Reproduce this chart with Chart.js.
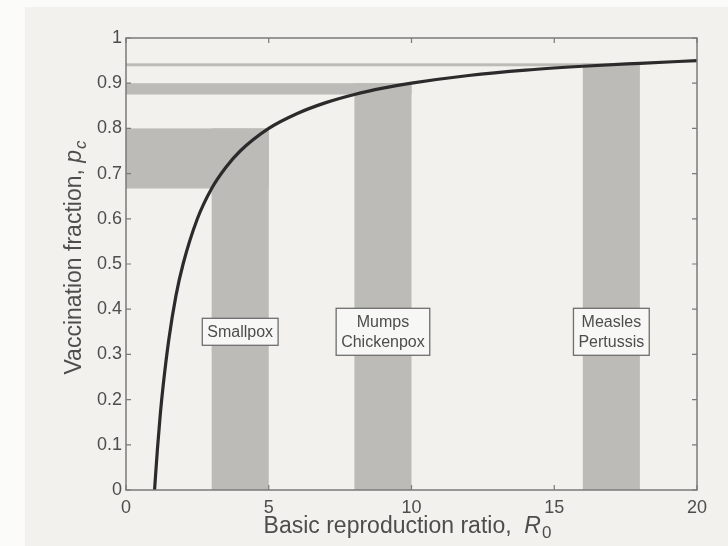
<!DOCTYPE html>
<html>
<head>
<meta charset="utf-8">
<script src="https://cdn.jsdelivr.net/npm/chart.js@4"></script>
<style>
html,body{margin:0;padding:0;background:#f2f1ed;}
canvas{display:block;}
</style>
</head>
<body>
<canvas id="c" width="728" height="546"></canvas>
<script>
// Critical vaccination curve: R0 -> p_c
const curveR0 = [1, 1.1, 1.2, 1.3, 1.5, 1.75, 2, 2.5, 3, 3.5, 4, 5, 6, 7, 8, 9, 10, 12, 14, 16, 18, 20];
const curvePc = [0, 0.09, 0.167, 0.23, 0.333, 0.43, 0.5, 0.6, 0.667, 0.714, 0.75, 0.8, 0.833, 0.857, 0.875, 0.889, 0.9, 0.917, 0.929, 0.9375, 0.944, 0.95];

// Disease bands
const diseaseNames = [["Smallpox"], ["Mumps", "Chickenpox"], ["Measles", "Pertussis"]];
const bandR0Lo = [3, 8, 16];
const bandR0Hi = [5, 10, 18];
const bandPcLo = [0.667, 0.875, 0.9375];
const bandPcHi = [0.8, 0.9, 0.944];

// Axis ticks
const xTicks = [0, 5, 10, 15, 20];
const yTicks = [0, 0.1, 0.2, 0.3, 0.4, 0.5, 0.6, 0.7, 0.8, 0.9, 1];
const yTickLabels = ["0", "0.1", "0.2", "0.3", "0.4", "0.5", "0.6", "0.7", "0.8", "0.9", "1"];

const xTitle = "Basic reproduction ratio,";
const xTitleVar = "R";
const xTitleSub = "0";
const yTitle = "Vaccination fraction,";
const yTitleVar = "p";
const yTitleSub = "c";

const FONT = '"Liberation Sans", Arial, Helvetica, sans-serif';
const TEXT = '#4d4d4d';
const AXIS = '#7a7a7a';
const BAND = '#bcbbb8';

const points = curveR0.map((r, i) => ({x: r, y: curvePc[i]}));

const decor = {
  id: 'decor',
  beforeDraw(chart) {
    const ctx = chart.ctx;
    ctx.save();
    ctx.fillStyle = '#f2f1ed';
    ctx.fillRect(0, 0, chart.width, chart.height);
    ctx.fillStyle = '#fbfbfa';
    ctx.fillRect(0, 0, 25, chart.height);
    ctx.fillRect(0, 0, chart.width, 7);
    ctx.restore();
  },
  beforeDatasetsDraw(chart) {
    const ctx = chart.ctx, xs = chart.scales.x, ys = chart.scales.y;
    ctx.save();
    ctx.fillStyle = BAND;
    for (let i = 0; i < bandR0Lo.length; i++) {
      const x0 = xs.getPixelForValue(0);
      const xl = xs.getPixelForValue(bandR0Lo[i]);
      const xh = xs.getPixelForValue(bandR0Hi[i]);
      const yb = ys.getPixelForValue(0);
      const ylo = ys.getPixelForValue(bandPcLo[i]);
      const yhi = ys.getPixelForValue(bandPcHi[i]);
      ctx.fillRect(x0, yhi, xh - x0, ylo - yhi);
      ctx.fillRect(xl, yhi, xh - xl, yb - yhi);
    }
    ctx.restore();
  },
  afterDatasetsDraw(chart) {
    const ctx = chart.ctx, xs = chart.scales.x, ys = chart.scales.y;
    const a = chart.chartArea;
    ctx.save();
    ctx.strokeStyle = AXIS;
    ctx.lineWidth = 1.5;
    ctx.strokeRect(a.left, a.top, a.right - a.left, a.bottom - a.top);
    ctx.lineWidth = 1.2;
    const tl = 5;
    ctx.beginPath();
    xTicks.forEach(v => {
      const px = xs.getPixelForValue(v);
      ctx.moveTo(px, a.bottom); ctx.lineTo(px, a.bottom - tl);
      ctx.moveTo(px, a.top); ctx.lineTo(px, a.top + tl);
    });
    yTicks.forEach(v => {
      const py = ys.getPixelForValue(v);
      ctx.moveTo(a.left, py); ctx.lineTo(a.left + tl, py);
      ctx.moveTo(a.right, py); ctx.lineTo(a.right - tl, py);
    });
    ctx.stroke();

    // disease label boxes
    ctx.font = '16px ' + FONT;
    ctx.textAlign = 'center';
    ctx.textBaseline = 'middle';
    for (let i = 0; i < diseaseNames.length; i++) {
      const lines = diseaseNames[i];
      const cx = xs.getPixelForValue((bandR0Lo[i] + bandR0Hi[i]) / 2);
      const cy = ys.getPixelForValue(0.35);
      const w = Math.max(...lines.map(s => ctx.measureText(s).width)) + 10;
      const lh = 20;
      const h = lines.length * lh + 7;
      ctx.fillStyle = '#f7f7f5';
      ctx.fillRect(cx - w / 2, cy - h / 2, w, h);
      ctx.strokeStyle = '#6e6e6e';
      ctx.lineWidth = 1.3;
      ctx.strokeRect(cx - w / 2, cy - h / 2, w, h);
      ctx.fillStyle = TEXT;
      lines.forEach((s, k) => {
        ctx.fillText(s, cx, cy - (lines.length - 1) * lh / 2 + k * lh + 1);
      });
    }

    // x axis title
    ctx.fillStyle = TEXT;
    ctx.textBaseline = 'alphabetic';
    ctx.textAlign = 'left';
    const big = '23px ' + FONT, ital = 'italic 23px ' + FONT, small = '17px ' + FONT;
    ctx.font = big;
    const w1 = ctx.measureText(xTitle + '  ').width;
    ctx.font = ital;
    const w2 = ctx.measureText(xTitleVar).width;
    ctx.font = small;
    const w3 = ctx.measureText(xTitleSub).width;
    const total = w1 + w2 + w3 + 1;
    let x = (a.left + a.right) / 2 - total / 2 - 4;
    const by = 533;
    ctx.font = big; ctx.fillText(xTitle + '  ', x, by); x += w1;
    ctx.font = ital; ctx.fillText(xTitleVar, x, by); x += w2 + 1;
    ctx.font = small; ctx.fillText(xTitleSub, x, by + 5);

    // y axis title (rotated)
    ctx.save();
    ctx.translate(81, (a.top + a.bottom) / 2 - 6);
    ctx.rotate(-Math.PI / 2);
    ctx.font = big;
    const v1 = ctx.measureText(yTitle + ' ').width;
    ctx.font = ital;
    const v2 = ctx.measureText(yTitleVar).width;
    ctx.font = 'italic 17px ' + FONT;
    const v3 = ctx.measureText(yTitleSub).width;
    let yx = -(v1 + v2 + v3) / 2;
    ctx.font = big; ctx.fillText(yTitle + ' ', yx, 0); yx += v1;
    ctx.font = ital; ctx.fillText(yTitleVar, yx, 0); yx += v2 + 1;
    ctx.font = 'italic 17px ' + FONT; ctx.fillText(yTitleSub, yx, 5);
    ctx.restore();

    ctx.restore();
  }
};

new Chart(document.getElementById('c'), {
  type: 'scatter',
  data: {
    datasets: [{
      label: 'Critical vaccination fraction',
      data: points,
      showLine: true,
      borderColor: '#2b2b2b',
      borderWidth: 3.2,
      pointRadius: 0,
      cubicInterpolationMode: 'monotone',
      fill: false
    }]
  },
  options: {
    responsive: false,
    devicePixelRatio: 1,
    animation: false,
    layout: { padding: { left: 0, right: 31, top: 38, bottom: 0 } },
    plugins: { legend: { display: false }, tooltip: { enabled: false }, title: { display: false } },
    scales: {
      x: {
        type: 'linear', min: 0, max: 20,
        afterBuildTicks(s) { s.ticks = xTicks.map(v => ({value: v})); },
        afterFit(s) { s.height = 56; },
        grid: { display: false, drawTicks: false },
        border: { display: false },
        ticks: {
          color: TEXT, padding: 7,
          font: { family: FONT, size: 18 },
          callback: v => String(v)
        }
      },
      y: {
        type: 'linear', min: 0, max: 1,
        afterBuildTicks(s) { s.ticks = yTicks.map(v => ({value: v})); },
        afterFit(s) { s.width = 126; },
        grid: { display: false, drawTicks: false },
        border: { display: false },
        ticks: {
          color: TEXT, padding: 4,
          font: { family: FONT, size: 18 },
          callback: (v) => { const i = yTicks.findIndex(t => Math.abs(t - v) < 1e-9); return i >= 0 ? yTickLabels[i] : ''; }
        }
      }
    }
  },
  plugins: [decor]
});
</script>
</body>
</html>
